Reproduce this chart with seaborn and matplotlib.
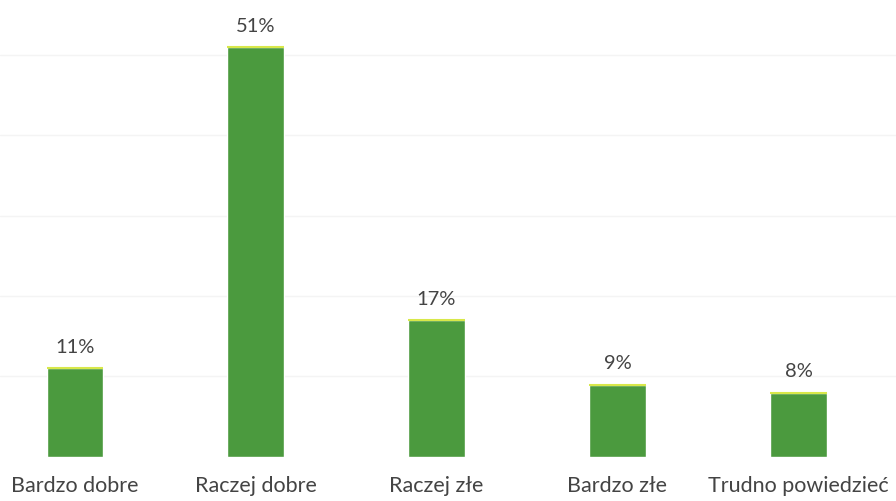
import seaborn as sns
import matplotlib.pyplot as plt
import pandas as pd

# survey answers and share of respondents (%)
categories = ['Bardzo dobre', 'Raczej dobre', 'Raczej złe', 'Bardzo złe', 'Trudno powiedzieć']
values = [11, 51, 17, 9, 8]
labels = ['11%', '51%', '17%', '9%', '8%']

df = pd.DataFrame({'Odpowiedź': categories, 'Procent': values})

sns.set_style('white')
plt.rcParams['font.family'] = ['Lato', 'DejaVu Sans']

fig = plt.figure(figsize=(8.96, 5.01), dpi=100)
ax = fig.add_axes([0, 0.088, 1, 0.912])

bar_w = 0.31
sns.barplot(data=df, x='Odpowiedź', y='Procent', color='#4b9a3e',
            saturation=1, width=bar_w, ax=ax, zorder=2)

# thin yellowish highlight on top of each bar
xs = range(len(values))
ax.hlines(values, [x - bar_w / 2 for x in xs], [x + bar_w / 2 for x in xs],
          color='#d8e84a', lw=1.5, zorder=3)

for x, v, lab in zip(xs, values, labels):
    ax.text(x, v + 1.5, lab, ha='center', va='bottom', fontsize=14.5, color='#444444')

ax.set_xlim(-0.412, 4.539)
ax.set_ylim(0, 56.8)
ax.set_yticks([10, 20, 30, 40, 50])
ax.yaxis.grid(True, color='#f4f4f4', lw=1)
ax.set_axisbelow(True)
ax.tick_params(axis='y', left=False, labelleft=False)
ax.tick_params(axis='x', bottom=False, labelsize=15.5, labelcolor='#444444', pad=10)
ax.set_xlabel('')
ax.set_ylabel('')
sns.despine(left=True, bottom=True)

fig.savefig('out.png', dpi=100)
